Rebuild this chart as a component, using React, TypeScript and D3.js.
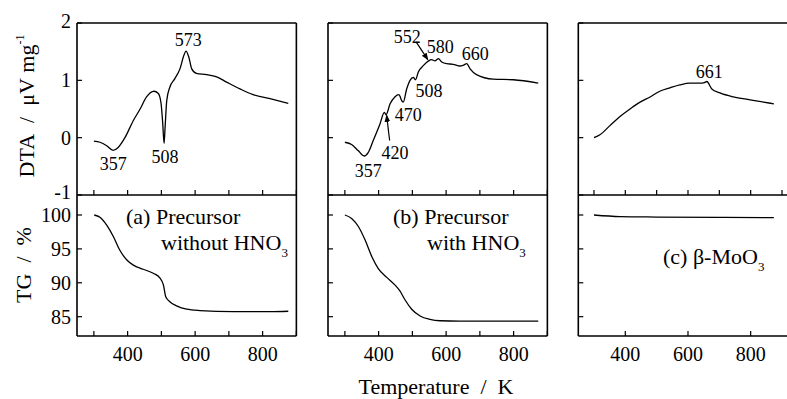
import React from "react";
import * as d3 from "d3";

// ---------- data (temperature K, value) ----------
const dtaA: [number, number][] = [
  [300, -0.06], [318, -0.08], [338, -0.14], [357, -0.22], [372, -0.17], [392, 0.0], [417, 0.3],
  [437, 0.5], [456, 0.71], [478, 0.81], [491, 0.77], [499, 0.6], [504, 0.25], [508, -0.1],
  [511, 0.18], [516, 0.65], [525, 0.88], [540, 1.03], [555, 1.2], [567, 1.44], [573, 1.51],
  [581, 1.41], [590, 1.2], [604, 1.12], [634, 1.1], [664, 1.06], [693, 0.97], [733, 0.85],
  [772, 0.75], [822, 0.68], [876, 0.6],
];
const dtaB: [number, number][] = [
  [300, -0.08], [320, -0.12], [340, -0.23], [357, -0.32], [369, -0.26], [384, -0.05], [404, 0.24],
  [417, 0.44], [422, 0.4], [434, 0.59], [448, 0.71], [460, 0.75], [469, 0.64], [473, 0.62],
  [483, 0.85], [493, 1.0], [503, 1.05], [509, 1.01], [518, 1.15], [533, 1.26], [548, 1.34],
  [557, 1.36], [567, 1.34], [577, 1.38], [587, 1.32], [602, 1.29], [621, 1.28], [641, 1.25],
  [650, 1.26], [661, 1.29], [671, 1.2], [690, 1.1], [740, 1.02], [799, 1.01], [873, 0.95],
];
const dtaC: [number, number][] = [
  [300, 0.0], [319, 0.05], [351, 0.21], [383, 0.37], [415, 0.5], [447, 0.62], [479, 0.71],
  [510, 0.81], [543, 0.87], [574, 0.92], [606, 0.95], [638, 0.95], [652, 0.96], [660, 0.98],
  [676, 0.85], [702, 0.78], [745, 0.71], [798, 0.66], [874, 0.59],
];
const tgA: [number, number][] = [
  [301, 100], [318, 99.66], [338, 98.5], [358, 96.8], [377, 94.8], [397, 93.4], [417, 92.6],
  [446, 92.0], [476, 91.4], [496, 90.7], [506, 89.7], [513, 87.95], [525, 87.2], [545, 86.6],
  [575, 86.1], [614, 85.9], [713, 85.74], [822, 85.74], [876, 85.8],
];
const tgB: [number, number][] = [
  [300, 100], [320, 99.5], [340, 98.3], [360, 96.3], [380, 93.85], [399, 92.1], [424, 90.8],
  [448, 89.7], [463, 88.8], [478, 87.5], [498, 86.1], [523, 85.1], [552, 84.6], [582, 84.4],
  [641, 84.35], [873, 84.35],
];
const tgC: [number, number][] = [
  [300, 100], [383, 99.76], [500, 99.7], [700, 99.65], [874, 99.62],
];

const xTicksMajor = [400, 600, 800];
const xTicksAll = [300, 400, 500, 600, 700, 800, 900];
const dtaTicks = [-1, 0, 1, 2];
const tgTicks = [85, 90, 95, 100];

// annotations: [label, T, value]
const annA: [string, number, number][] = [["357", 357.6, -0.46], ["508", 510.7, -0.33], ["573", 579.8, 1.71]];
const annB: [string, number, number][] = [
  ["552", 485, 1.76], ["580", 582.6, 1.58], ["660", 686.3, 1.46], ["508", 549.6, 0.82],
  ["470", 488, 0.4], ["420", 448.5, -0.26], ["357", 369.6, -0.58],
];
const annC: [string, number, number][] = [["661", 668, 1.15]];
// arrows: [T0, v0, T1, v1]
const arrowsB: [number, number, number, number][] = [[511, 1.67, 545.8, 1.36], [432.6, -0.05, 423.7, 0.39]];

const FONT = '"Liberation Serif", "Times New Roman", serif';
const TOP = 23, MID = 195, BOT = 336;
const SP = "\u00A0";

const yDTA = d3.scaleLinear().domain([-1, 2]).range([MID, TOP]);
const yTG = d3.scaleLinear().domain([82.15, 102.95]).range([BOT, MID]);

interface PanelProps {
  x: d3.ScaleLinear<number, number>;
  dta: [number, number][];
  tg: [number, number][];
  ann: [string, number, number][];
  arrows: [number, number, number, number][];
  showYLabels: boolean;
  minorTG: boolean;
  id: string;
}

function Panel({ x, dta, tg, ann, arrows, showYLabels, minorTG, id }: PanelProps) {
  const [x0, x1] = x.range();
  const curve = d3.curveMonotoneX;
  const lineDTA = d3.line<[number, number]>().x((d) => x(d[0])).y((d) => yDTA(d[1])).curve(curve);
  const lineTG = d3.line<[number, number]>().x((d) => x(d[0])).y((d) => yTG(d[1])).curve(curve);
  const tl = 5;
  const tgXTicks = minorTG ? xTicksAll : xTicksMajor;
  return (
    <g>
      <g stroke="#000" strokeWidth={1.6} fill="none">
        <line x1={x0} x2={x0} y1={TOP} y2={BOT} />
        <line x1={x1} x2={x1} y1={TOP} y2={BOT} />
        <line x1={x0} x2={x1} y1={TOP} y2={TOP} />
        <line x1={x0} x2={x1} y1={MID} y2={MID} />
        <line x1={x0} x2={x1} y1={BOT} y2={BOT} />
      </g>
      <g stroke="#000" strokeWidth={1.2}>
        {dtaTicks.map((t) => (
          <line key={"dy" + t} x1={x0} x2={x0 + tl} y1={yDTA(t)} y2={yDTA(t)} />
        ))}
        {tgTicks.map((t) => (
          <line key={"ty" + t} x1={x0} x2={x0 + tl} y1={yTG(t)} y2={yTG(t)} />
        ))}
        {xTicksAll.map((t) => (
          <line key={"dx" + t} x1={x(t)} x2={x(t)} y1={MID} y2={MID - tl} />
        ))}
        {tgXTicks.map((t) => (
          <line key={"tx" + t} x1={x(t)} x2={x(t)} y1={BOT} y2={BOT - tl} />
        ))}
      </g>
      <g fontFamily={FONT} fontSize={20} textAnchor="middle">
        {xTicksMajor.map((t) => (
          <text key={"xl" + t} x={x(t)} y={361}>{t}</text>
        ))}
      </g>
      {showYLabels && (
        <g fontFamily={FONT} fontSize={20} textAnchor="end">
          {dtaTicks.map((t) => (
            <text key={"yl" + t} x={x0 - 6} y={yDTA(t) + (t === -1 ? -3 : t === 2 ? -2 : 0)} dominantBaseline="central">{t}</text>
          ))}
          {tgTicks.map((t) => (
            <text key={"tl" + t} x={x0 - 6} y={yTG(t)} dominantBaseline="central">{t}</text>
          ))}
        </g>
      )}
      <path d={lineDTA(dta) ?? ""} fill="none" stroke="#000" strokeWidth={1.3} />
      <path d={lineTG(tg) ?? ""} fill="none" stroke="#000" strokeWidth={1.3} />
      <g fontFamily={FONT} fontSize={18} textAnchor="middle">
        {ann.map(([s, t, v], i) => (
          <text key={id + "a" + i} x={x(t)} y={yDTA(v)} dominantBaseline="central">{s}</text>
        ))}
      </g>
      {arrows.map(([t0, v0, t1, v1], i) => (
        <line key={id + "ar" + i} x1={x(t0)} y1={yDTA(v0)} x2={x(t1)} y2={yDTA(v1)}
          stroke="#000" strokeWidth={1.2} markerEnd="url(#arrowhead)" />
      ))}
    </g>
  );
}

export default function App() {
  const W = 787, H = 399;
  const pxPerK = 0.3375;
  const xA = d3.scaleLinear().domain([250, 900]).range([77, 77 + 650 * pxPerK]);
  const xB = d3.scaleLinear().domain([250, 900]).range([328, 328 + 650 * pxPerK]);
  const xC = d3.scaleLinear().domain([250, 920]).range([578.3, 578.3 + 670 * 0.3134]);
  return (
    <svg width={W} height={H} style={{ position: "absolute", left: 0, top: 0, background: "#fff" }}>
      <defs>
        <marker id="arrowhead" viewBox="0 0 10 10" refX="9" refY="5" markerWidth="6" markerHeight="6" orient="auto-start-reverse">
          <path d="M0,1 L10,5 L0,9 z" fill="#000" />
        </marker>
      </defs>
      <rect x={0} y={0} width={W} height={H} fill="#fff" />
      <Panel id="a" x={xA} dta={dtaA} tg={tgA} ann={annA} arrows={[]} showYLabels minorTG />
      <Panel id="b" x={xB} dta={dtaB} tg={tgB} ann={annB} arrows={arrowsB} showYLabels={false} minorTG />
      <Panel id="c" x={xC} dta={dtaC} tg={tgC} ann={annC} arrows={[]} showYLabels={false} minorTG={false} />

      <g fontFamily={FONT} fontSize={22}>
        <text x={126} y={224}>(a) Precursor</text>
        <text x={161} y={250}>without HNO<tspan fontSize={13} dy={7}>3</tspan></text>
        <text x={393} y={224}>(b) Precursor</text>
        <text x={427} y={250}>with HNO<tspan fontSize={13} dy={7}>3</tspan></text>
        <text x={663} y={264}>(c) β-MoO<tspan fontSize={13} dy={7}>3</tspan></text>
      </g>

      <g fontFamily={FONT} fontSize={22} textAnchor="middle">
        <text transform="translate(34,106) rotate(-90)">{`DTA${SP} /${SP} μV${SP}mg`}<tspan fontSize={12} dy={-10}>-1</tspan></text>
        <text transform="translate(31,265) rotate(-90)">{`TG${SP} /${SP} %`}</text>
        <text x={436} y={394}>{`Temperature${SP} /${SP} K`}</text>
      </g>
    </svg>
  );
}
